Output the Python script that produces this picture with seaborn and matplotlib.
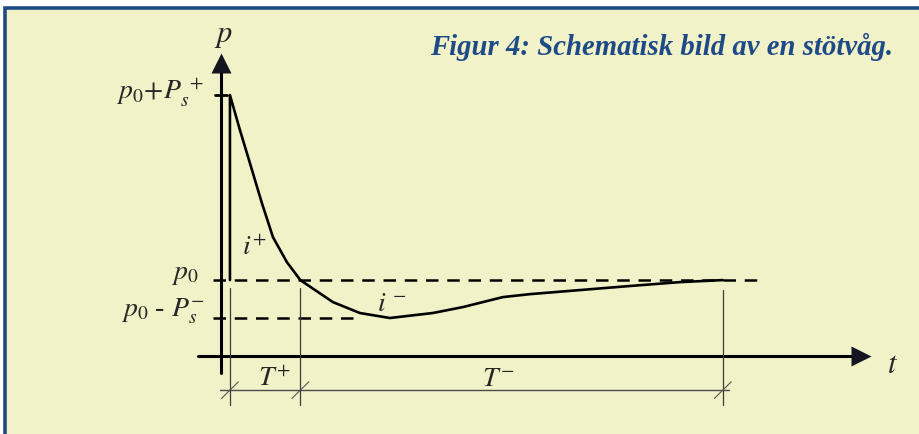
import numpy as np
import pandas as pd
import seaborn as sns
import matplotlib.pyplot as plt
from matplotlib.patches import Rectangle

# schematic blast wave: time in units of T+, pressure over p0 in units of Ps+
t_vals = [0.0, 0.0, 0.142, 0.284, 0.454, 0.611, 0.809, 1.0, 1.462, 1.846,
          2.272, 2.882, 3.308, 3.876, 4.26, 4.97, 5.68, 6.39, 7.0]
p_vals = [0.0, 1.0, 0.811, 0.632, 0.416, 0.232, 0.097, 0.0, -0.119, -0.178,
          -0.205, -0.178, -0.146, -0.092, -0.076, -0.054, -0.032, -0.011, 0.0]
T_plus = 1.0
T_minus = 6.0
Ps_plus = 1.0
Ps_minus = 0.205

title = "Figur 4: Schematisk bild av en stötvåg."

bg = "#F2F2C9"
blue = "#1E4B87"

sns.set_theme(style="white")
plt.rcParams["mathtext.fontset"] = "stix"
plt.rcParams["font.family"] = ["Liberation Serif", "DejaVu Serif"]

fig = plt.figure(figsize=(9.19, 4.34), dpi=100, facecolor="white")
# panel with blue top/left border
fig.patches.append(Rectangle((5 / 919, -0.1), 1.2, 1.1 - 8 / 434, transform=fig.transFigure,
                             facecolor=bg, edgecolor=blue, linewidth=2.6, zorder=-5))
ax = fig.add_axes([0, 0, 1, 1])
ax.set_zorder(2)
ax.set_facecolor("none")
ax.set_axis_off()
ax.set_xlim(-3.266, 9.787)
ax.set_ylim(-0.832, 1.514)

df = pd.DataFrame({"t": t_vals, "p": p_vals})
sns.lineplot(data=df, x="t", y="p", sort=False, estimator=None, color="black",
             lw=1.9, ax=ax, zorder=5)

# axes with arrow heads
x_ax, y_ax = -0.128, -0.411
ax.plot([x_ax, x_ax], [-0.503, 1.13], color="black", lw=2.2)
ax.plot([x_ax], [1.175], marker="^", ms=15, color="#151522", mec="none")
ax.plot([-0.454, 8.9], [y_ax, y_ax], color="black", lw=2.2)
ax.plot([8.97], [y_ax], marker=">", ms=15, color="#151522", mec="none")
ax.plot([-0.21, -0.04], [Ps_plus, Ps_plus], color="black", lw=2.0)

# reference levels
ax.plot([-0.241, 7.48], [0, 0], color="black", lw=1.8, ls=(0, (5, 3.5)))
ax.plot([-0.241, T_plus + 0.85], [-Ps_minus, -Ps_minus], color="black", lw=1.8, ls=(0, (5, 3.5)))

# duration dimension line
y_dim = -0.595
ax.plot([-0.142, T_plus + T_minus + 0.085], [y_dim, y_dim], color="#4a4a4a", lw=1.0)
for tx, top in [(0.0, -0.043), (T_plus, -0.043), (T_plus + T_minus, -0.054)]:
    ax.plot([tx, tx], [top, -0.676], color="#3a3a3a", lw=0.9)
    ax.plot([tx - 0.12, tx + 0.12], [y_dim - 0.045, y_dim + 0.045], color="#555555", lw=0.8)

fs = 20
ax.text(-0.10, 1.32, r"$p$", fontsize=22, ha="center", va="center")
ax.text(-0.36, 0.975, r"$p_0\!+\!P_s^{\;+}$", fontsize=fs, ha="right", va="baseline")
ax.text(-0.45, 0.005, r"$p_0$", fontsize=fs, ha="right", va="baseline")
ax.text(-0.36, -0.20, r"$p_0$ - $P_s^{-}$", fontsize=fs, ha="right", va="baseline")
ax.text(0.17, 0.135, r"$i^{+}$", fontsize=fs, ha="left", va="baseline")
ax.text(2.09, -0.165, r"$i^{\,-}$", fontsize=fs, ha="left", va="baseline")
ax.text(0.40, -0.57, r"$T^{+}$", fontsize=fs, ha="left", va="baseline")
ax.text(3.58, -0.575, r"$T^{-}$", fontsize=fs, ha="left", va="baseline")
ax.text(9.33, -0.50, r"$t$", fontsize=22, ha="left", va="baseline")
ax.text(9.414, 1.26, title, fontsize=20.7, fontweight="bold", fontstyle="italic",
        color=blue, ha="right", va="center", family=["Liberation Serif", "DejaVu Serif"])

fig.savefig("out.png", dpi=100, facecolor="white")
